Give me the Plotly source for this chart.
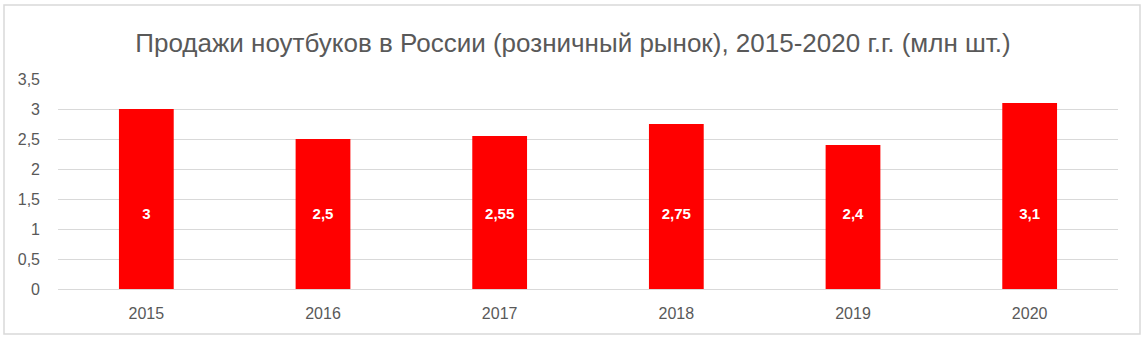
import plotly.graph_objects as go

years = ["2015", "2016", "2017", "2018", "2019", "2020"]
sales = [3, 2.5, 2.55, 2.75, 2.4, 3.1]
labels = ["3", "2,5", "2,55", "2,75", "2,4", "3,1"]
y_tickvals = [0, 0.5, 1, 1.5, 2, 2.5, 3, 3.5]
y_ticktext = ["0", "0,5", "1", "1,5", "2", "2,5", "3", "3,5"]
title = "Продажи ноутбуков в России (розничный рынок), 2015-2020 г.г. (млн шт.)"
label_level = 1.23  # data labels sit at a common height inside the bars

font_family = "Liberation Sans, Arial, sans-serif"
grey = "#595959"

fig = go.Figure()
fig.add_trace(go.Bar(x=years, y=sales, marker=dict(color="#ff0000", line=dict(width=0)),
                     hoverinfo="skip"))
fig.add_trace(go.Scatter(x=years, y=[label_level] * len(years), mode="text",
                         text=["<b>" + s + "</b>" for s in labels],
                         textfont=dict(family=font_family, size=15, color="white"),
                         hoverinfo="skip"))

fig.update_layout(
    width=1146, height=340,
    margin=dict(l=58, r=28, t=79, b=51),
    paper_bgcolor="white", plot_bgcolor="white",
    bargap=0.69,
    showlegend=False,
    title=dict(text=title, x=0.5, xref="container", xanchor="center", y=1 - 43 / 340, yanchor="middle",
               font=dict(family=font_family, size=26, color=grey)),
    xaxis=dict(type="category", showgrid=False, showline=True, linecolor="#d9d9d9", linewidth=1,
               tickfont=dict(family=font_family, size=16, color=grey),
               ticks="", ticklabelstandoff=10),
    yaxis=dict(range=[0, 3.5], tickvals=y_tickvals, ticktext=y_ticktext,
               showgrid=True, gridcolor="#d9d9d9", gridwidth=1, zeroline=False,
               tickfont=dict(family=font_family, size=16, color=grey),
               ticks="", ticklabelstandoff=17),
    shapes=[dict(type="rect", xref="paper", yref="paper",
                 x0=-54 / 1060, x1=1 + 22 / 1060, y0=-45 / 210, y1=1 + 74 / 210,
                 line=dict(color="#d9d9d9", width=1.5), fillcolor="rgba(0,0,0,0)", layer="below")],
)

fig.write_html("out.html")
